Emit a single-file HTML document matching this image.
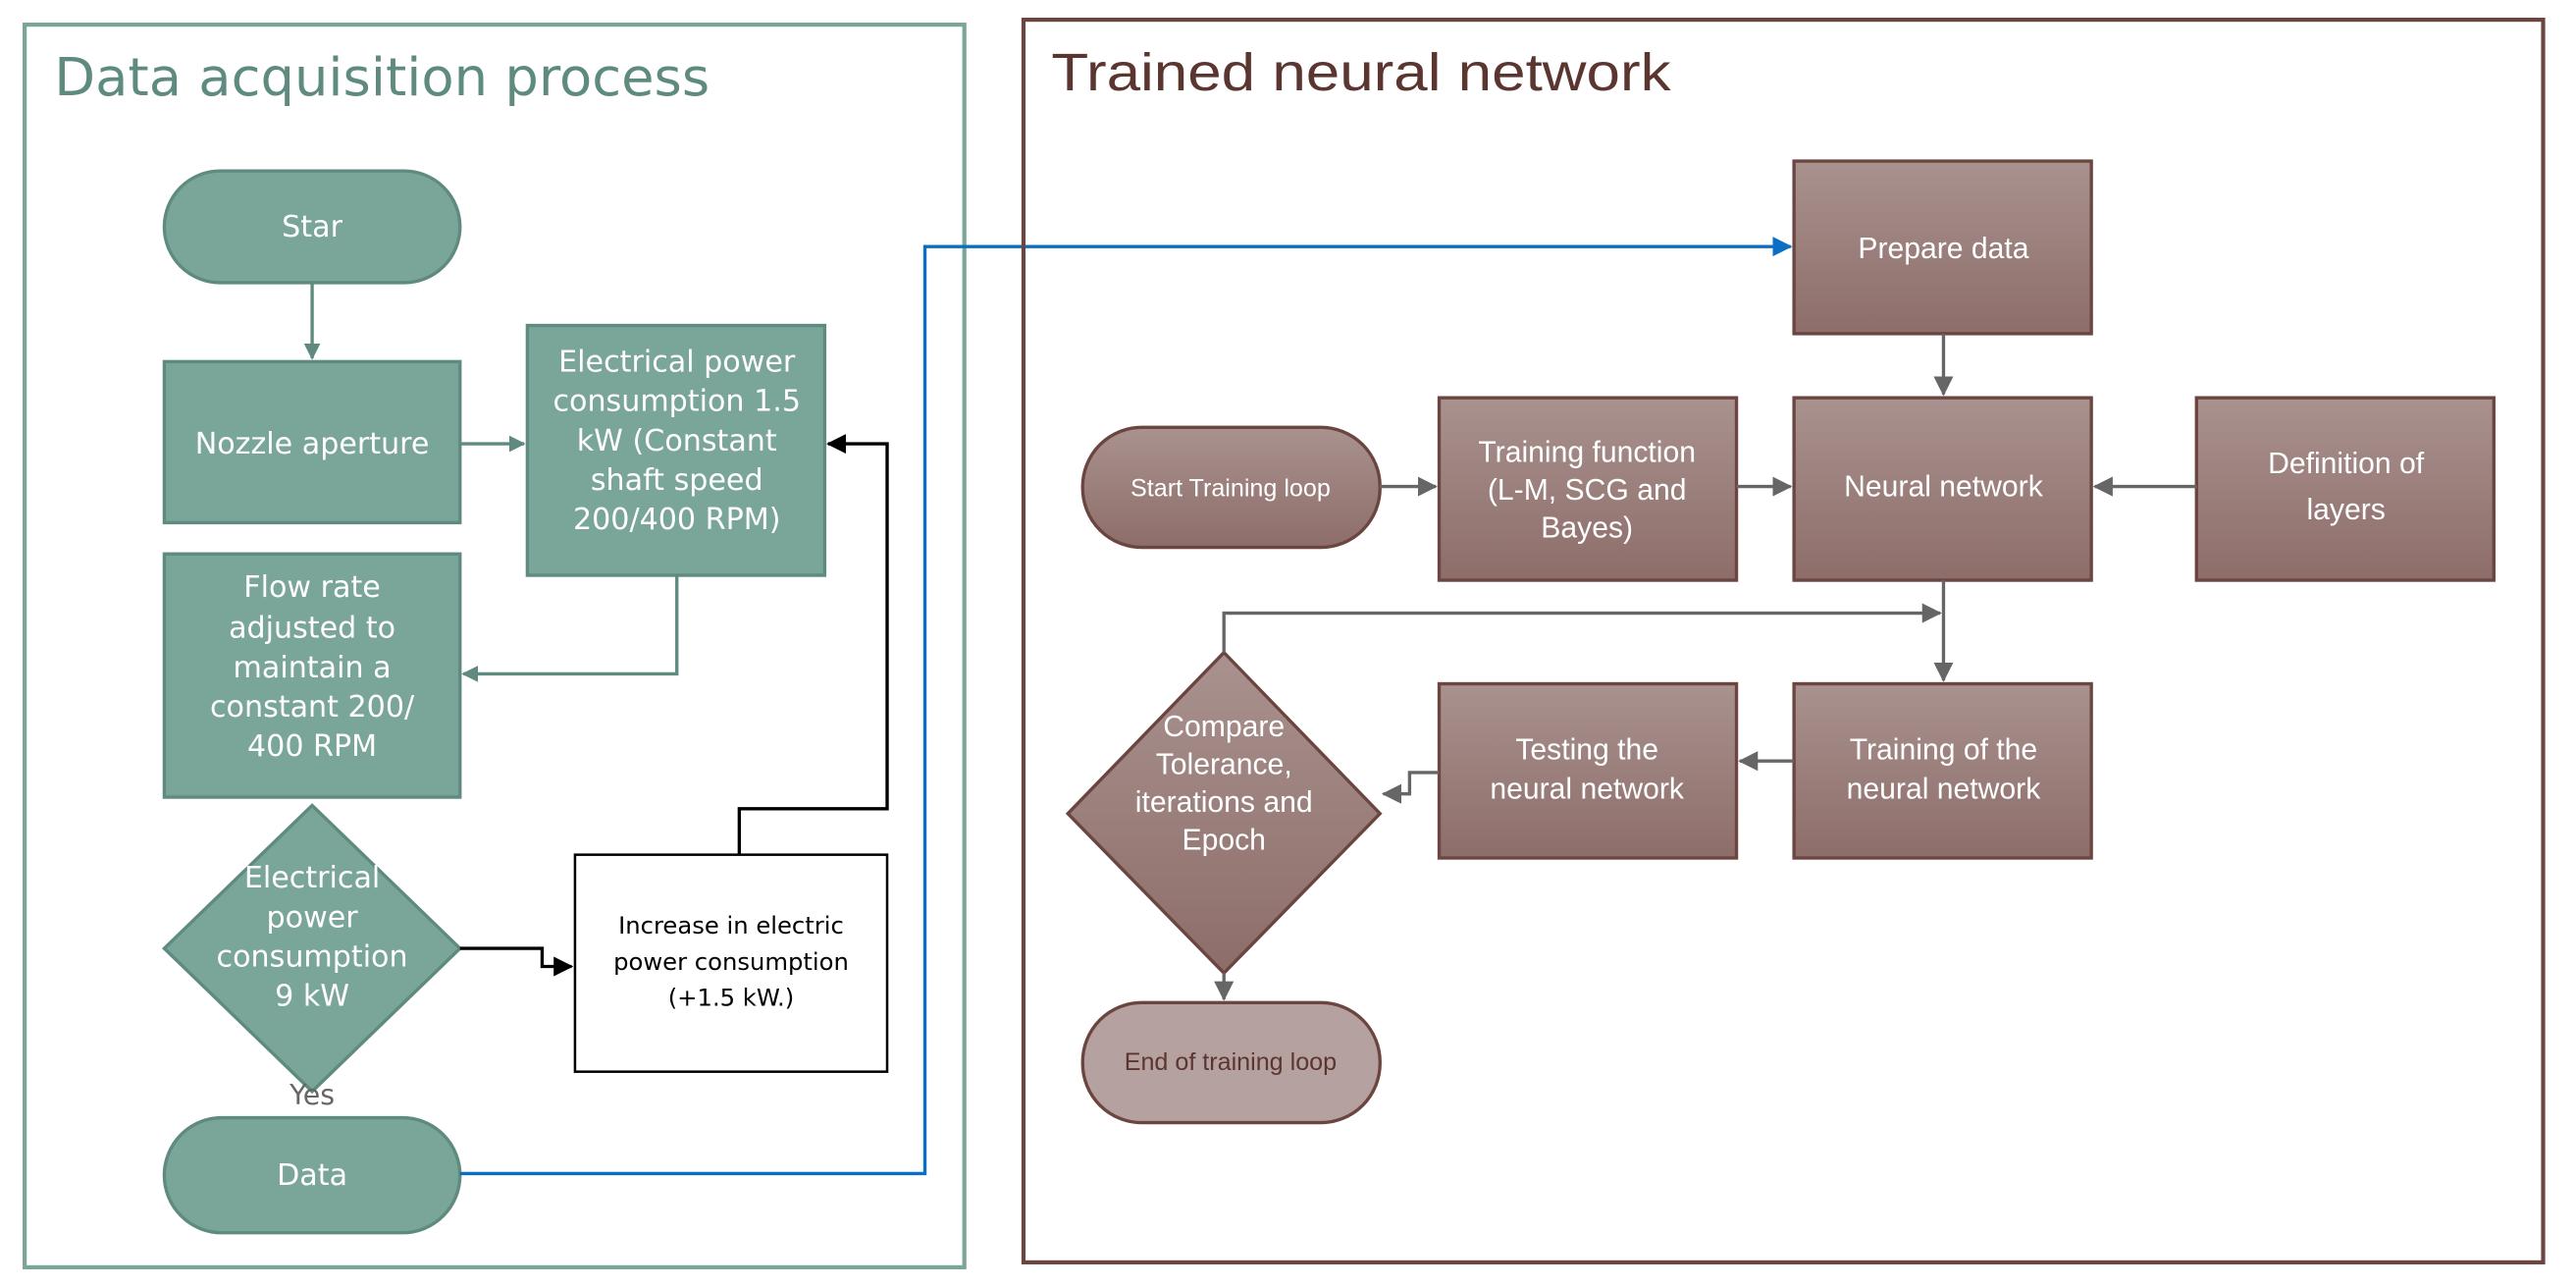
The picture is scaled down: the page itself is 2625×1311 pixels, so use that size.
<!DOCTYPE html>
<html><head><meta charset="utf-8"><style>html,body{margin:0;padding:0;background:#fff}svg{display:block}</style></head>
<body>
<svg width="2625" height="1311" viewBox="0 0 1568 783" preserveAspectRatio="none" xmlns="http://www.w3.org/2000/svg">
<defs>
<linearGradient id="br" x1="0" y1="0" x2="0" y2="1"><stop offset="0" stop-color="#a9928f"/><stop offset="1" stop-color="#8d6d69"/></linearGradient>
<marker id="ag" markerWidth="10" markerHeight="10" refX="9" refY="5" orient="auto" markerUnits="userSpaceOnUse"><path d="M0,0 L10,5 L0,10 Z" fill="#5e8a7f"/></marker>
<marker id="ab" markerWidth="12" markerHeight="12" refX="11" refY="6" orient="auto" markerUnits="userSpaceOnUse"><path d="M0,0 L12,6 L0,12 Z" fill="#000"/></marker>
<marker id="abl" markerWidth="12" markerHeight="12" refX="11" refY="6" orient="auto" markerUnits="userSpaceOnUse"><path d="M0,0 L12,6 L0,12 Z" fill="#0a6fc4"/></marker>
<marker id="ay" markerWidth="12" markerHeight="12" refX="11" refY="6" orient="auto" markerUnits="userSpaceOnUse"><path d="M0,0 L12,6 L0,12 Z" fill="#666"/></marker>
</defs>
<!-- Left panel -->
<rect x="15" y="15" width="572" height="756" fill="none" stroke="#7aa599" stroke-width="2.5"/>
<text x="33" y="58" font-family="DejaVu Sans, sans-serif" font-size="32" fill="#5e8a7f" textLength="399" lengthAdjust="spacingAndGlyphs">Data acquisition process</text>
<g fill="#7aa599" stroke="#5e8a7f" stroke-width="2">
<rect x="100" y="104" width="180" height="68" rx="34"/>
<rect x="100" y="220" width="180" height="98"/>
<rect x="321" y="198" width="181" height="152"/>
<rect x="100" y="337" width="180" height="148"/>
<polygon points="190,490 280,577 190,664 100,577"/>
<rect x="100" y="680" width="180" height="70" rx="35"/>
</g>
<rect x="350" y="520" width="190" height="132" fill="#fff" stroke="#000" stroke-width="1.5"/>
<g fill="none" stroke="#5e8a7f" stroke-width="2">
<path d="M190,172 V218" marker-end="url(#ag)"/>
<path d="M280,270 H319" marker-end="url(#ag)"/>
<path d="M412,350 V410 H282" marker-end="url(#ag)"/>
</g>
<g fill="none" stroke="#000" stroke-width="2">
<path d="M280,577 H330 V588 H348" marker-end="url(#ab)"/>
<path d="M450,520 V492 H540 V270 H504" marker-end="url(#ab)"/>
</g>
<path d="M280,714 H563 V150 H1090" fill="none" stroke="#0a6fc4" stroke-width="2" marker-end="url(#abl)"/>
<g font-family="DejaVu Sans, sans-serif" font-size="18" fill="#fff" text-anchor="middle">
<text x="190" y="144">Star</text>
<text x="190" y="276">Nozzle aperture</text>
<text x="412" y="226">Electrical power</text>
<text x="412" y="250">consumption 1.5</text>
<text x="412" y="274">kW (Constant</text>
<text x="412" y="298">shaft speed</text>
<text x="412" y="322">200/400 RPM)</text>
<text x="190" y="363">Flow rate</text>
<text x="190" y="388">adjusted to</text>
<text x="190" y="412">maintain a</text>
<text x="190" y="436">constant 200/</text>
<text x="190" y="460">400 RPM</text>
<text x="190" y="540">Electrical</text>
<text x="190" y="564">power</text>
<text x="190" y="588">consumption</text>
<text x="190" y="612">9 kW</text>
<text x="190" y="721">Data</text>
</g>
<g font-family="DejaVu Sans, sans-serif" font-size="14.5" fill="#000" text-anchor="middle">
<text x="445" y="568">Increase in electric</text>
<text x="445" y="590">power consumption</text>
<text x="445" y="612">(+1.5 kW.)</text>
</g>
<text x="190" y="672" font-family="DejaVu Sans, sans-serif" font-size="17" fill="#666" text-anchor="middle">Yes</text>
<!-- Right panel -->
<rect x="623" y="12" width="925" height="756" fill="none" stroke="#6b4540" stroke-width="2.5"/>
<text x="640" y="55" font-family="Liberation Sans Narrow, Liberation Sans, sans-serif" font-size="32" fill="#5b3530" textLength="377" lengthAdjust="spacingAndGlyphs">Trained neural network</text>
<g fill="url(#br)" stroke="#6b4540" stroke-width="2">
<rect x="1092" y="98" width="181" height="105"/>
<rect x="1092" y="242" width="181" height="111"/>
<rect x="876" y="242" width="181" height="111"/>
<rect x="659" y="260" width="181" height="73" rx="36"/>
<rect x="1337" y="242" width="181" height="111"/>
<rect x="1092" y="416" width="181" height="106"/>
<rect x="876" y="416" width="181" height="106"/>
<polygon points="745,397 840,495 745,592 650,495"/>
</g>
<rect x="659" y="610" width="181" height="73" rx="36" fill="#b5a19f" stroke="#6b4540" stroke-width="2"/>
<g fill="none" stroke="#666" stroke-width="2">
<path d="M1183,203 V240" marker-end="url(#ay)"/>
<path d="M840,296 H874" marker-end="url(#ay)"/>
<path d="M1057,296 H1090" marker-end="url(#ay)"/>
<path d="M1337,296 H1275" marker-end="url(#ay)"/>
<path d="M1183,353 V414" marker-end="url(#ay)"/>
<path d="M745,397 V373 H1181" marker-end="url(#ay)"/>
<path d="M1092,463 H1059" marker-end="url(#ay)"/>
<path d="M876,470 H858 V483 H842" marker-end="url(#ay)"/>
<path d="M745,592 V608" marker-end="url(#ay)"/>
</g>
<g font-family="Liberation Sans Narrow, Liberation Sans, sans-serif" font-size="18" fill="#fff" text-anchor="middle">
<text x="1183" y="157">Prepare data</text>
<text x="1183" y="302">Neural network</text>
<text x="966" y="281">Training function</text>
<text x="966" y="304">(L-M, SCG and</text>
<text x="966" y="327">Bayes)</text>
<text x="749" y="302" font-size="15">Start Training loop</text>
<text x="1428" y="288">Definition of</text>
<text x="1428" y="316">layers</text>
<text x="1183" y="462">Training of the</text>
<text x="1183" y="486">neural network</text>
<text x="966" y="462">Testing the</text>
<text x="966" y="486">neural network</text>
<text x="745" y="448">Compare</text>
<text x="745" y="471">Tolerance,</text>
<text x="745" y="494">iterations and</text>
<text x="745" y="517">Epoch</text>
</g>
<text x="749" y="651" font-family="Liberation Sans Narrow, Liberation Sans, sans-serif" font-size="15" fill="#5b3530" text-anchor="middle">End of training loop</text>
</svg>
</body></html>
